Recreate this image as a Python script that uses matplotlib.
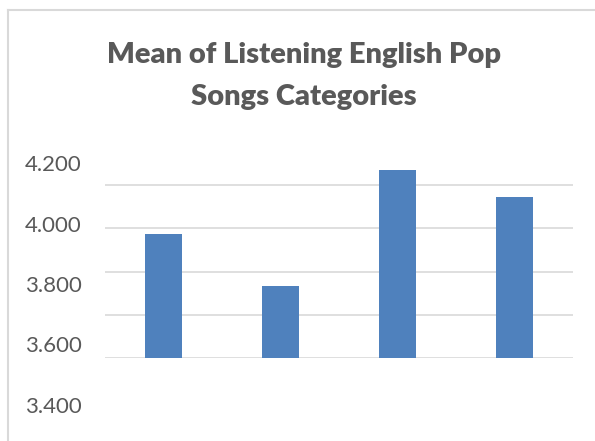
import numpy as np
import matplotlib
matplotlib.use("Agg")
import matplotlib.pyplot as plt
from matplotlib.lines import Line2D

plt.rcParams['font.family'] = ['Lato', 'DejaVu Sans']

# data
categories = ['Category 1', 'Category 2', 'Category 3', 'Category 4']
means = [3.974, 3.733, 4.270, 4.145]
tick_values = [3.4, 3.6, 3.8, 4.0, 4.2]
tick_labels = ['3.400', '3.600', '3.800', '4.000', '4.200']

grey_text = '#595959'
grid_col = '#D9D9D9'
bar_col = '#4F81BD'

W, H = 595, 441
fig = plt.figure(figsize=(W / 100, H / 100), dpi=100)

# chart border (light grey frame, left and top visible)
fig.add_artist(Line2D([8 / W, 8 / W], [0, 1 - 10 / H], color=grid_col, lw=1.5))
fig.add_artist(Line2D([8 / W, 1], [1 - 10 / H, 1 - 10 / H], color=grid_col, lw=1.5))

fig.text(304 / W, 1 - 55 / H, 'Mean of Listening English Pop', ha='center', va='center',
         fontsize=21, fontweight='heavy', color=grey_text)
fig.text(304 / W, 1 - 97 / H, 'Songs Categories', ha='center', va='center',
         fontsize=21, fontweight='heavy', color=grey_text)

# plot area
ax = fig.add_axes([105 / W, (H - 358) / H, 468 / W, 194.4 / H])
x = np.arange(len(categories))
ax.bar(x, means, width=0.32, color=bar_col, zorder=3)
ax.set_ylim(3.4, 4.3)
ax.set_xlim(-0.5, len(categories) - 0.5)
for v in tick_values:
    ax.axhline(v, color=grid_col, lw=1.2, zorder=1)
ax.set_xticks([])
ax.set_yticks([])
for s in ax.spines.values():
    s.set_visible(False)

# value labels column
lab = fig.add_axes([90 / W, (H - 405) / H, 1 / W, 242 / H])
lab.set_ylim(3.4, 4.2)
lab.set_yticks(tick_values)
lab.set_yticklabels(tick_labels)
lab.tick_params(axis='y', length=0, pad=6, labelsize=16, labelcolor=grey_text)
lab.set_xticks([])
for s in lab.spines.values():
    s.set_visible(False)
lab.patch.set_visible(False)

fig.savefig('out.png', dpi=100)
